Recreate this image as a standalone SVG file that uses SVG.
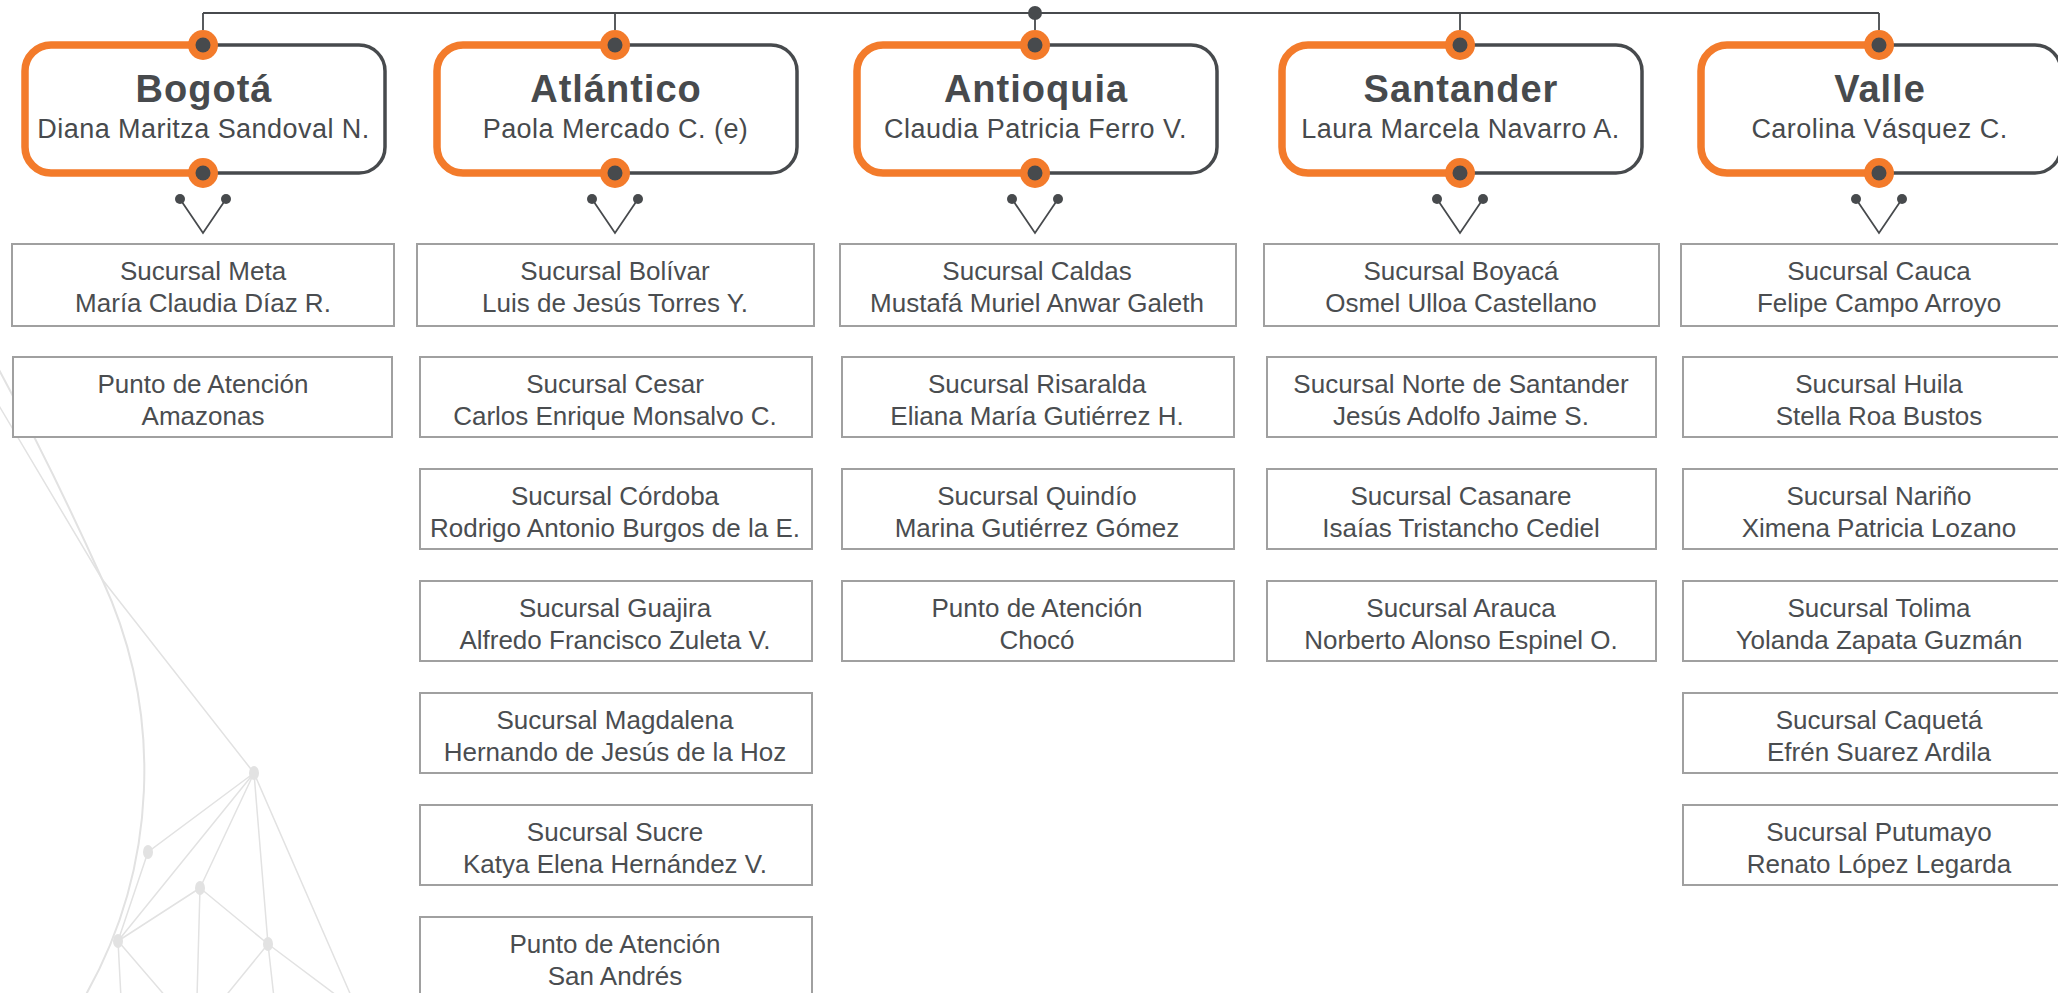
<svg xmlns="http://www.w3.org/2000/svg" width="2058" height="993" viewBox="0 0 2058 993">
<style>
.bgl{fill:none;stroke:#e2e2e2;stroke-width:1.5}
.bga{fill:none;stroke:#e2e2e2;stroke-width:2}
.bgn{fill:#e2e2e2}
.t{font-family:"Liberation Sans",Arial,sans-serif;font-weight:bold;font-size:38px;fill:#474a4d;text-anchor:middle;letter-spacing:1px}
.s{font-family:"Liberation Sans",Arial,sans-serif;font-size:27px;fill:#474a4d;text-anchor:middle;letter-spacing:0.45px}
.c{font-family:"Liberation Sans",Arial,sans-serif;font-size:26px;fill:#4a4d50;text-anchor:middle}
.box{fill:#fff;stroke:#a0a0a0;stroke-width:2}
.or{fill:none;stroke:#f37b2b;stroke-width:7.5}
.gr{fill:none;stroke:#474a4d;stroke-width:3.5}
.ln{fill:none;stroke:#474a4d;stroke-width:1.8}
.dk{fill:#474a4d}
.oc{fill:#f37b2b}
</style>
<defs>
<g id="hdr">
<rect x="-178" y="45" width="360" height="128" rx="26" fill="#fff"/>
<path class="or" d="M0,45 H-152 A26,26 0 0 0 -178,71 V147 A26,26 0 0 0 -152,173 H0"/>
<path class="gr" d="M0,45 H156 A26,26 0 0 1 182,71 V147 A26,26 0 0 1 156,173 H0"/>
<circle class="oc" cx="0" cy="45" r="15"/>
<circle class="dk" cx="0" cy="45" r="7.5"/>
<circle class="oc" cx="0" cy="173" r="15"/>
<circle class="dk" cx="0" cy="173" r="7.5"/>
</g>
<g id="chev">
<polyline class="ln" points="-23,199 0,233 23,199"/>
<circle class="dk" cx="-23" cy="199" r="5"/>
<circle class="dk" cx="23" cy="199" r="5"/>
</g>
</defs>
<rect width="2058" height="993" fill="#fff"/>
<g id="background">
<path class="bga" d="M-2,368 Q52,468 102,579 A457,457 0 0 1 84,998"/>
<path class="bgl" d="M-2,404 L102,579 L254,773"/>
<path class="bgl" d="M254,773 L148,852 L118,941 M254,773 L118,941 M254,773 L200,888 M254,773 L268,944 M254,773 L352,998 M200,888 L118,941 M200,888 L268,944 M200,888 L197,998 M118,941 L121,998 M118,941 L167,998 M268,944 L224,998 M268,944 L274,998 M268,944 L340,998"/>
<ellipse class="bgn" cx="254" cy="773" rx="5" ry="7"/>
<ellipse class="bgn" cx="148" cy="852" rx="5" ry="7"/>
<ellipse class="bgn" cx="200" cy="888" rx="5" ry="7"/>
<ellipse class="bgn" cx="118" cy="941" rx="5" ry="7"/>
<ellipse class="bgn" cx="268" cy="944" rx="5" ry="7"/>
</g>
<g id="connectors">
<path class="ln" d="M203,13 H1879 M203,13 V30 M615,13 V30 M1035,13 V30 M1460,13 V30 M1879,13 V30"/>
<circle class="dk" cx="1035" cy="13" r="7"/>
<use href="#chev" x="203"/>
<use href="#chev" x="615"/>
<use href="#chev" x="1035"/>
<use href="#chev" x="1460"/>
<use href="#chev" x="1879"/>
</g>
<g id="bogota">
<use href="#hdr" x="203"/>
<text class="t" x="204" y="102">Bogotá</text>
<text class="s" x="203.5" y="138">Diana Maritza Sandoval N.</text>
</g>
<g id="atlantico">
<use href="#hdr" x="615"/>
<text class="t" x="616" y="102">Atlántico</text>
<text class="s" x="615.5" y="138">Paola Mercado C. (e)</text>
</g>
<g id="antioquia">
<use href="#hdr" x="1035"/>
<text class="t" x="1036" y="102">Antioquia</text>
<text class="s" x="1035.5" y="138">Claudia Patricia Ferro V.</text>
</g>
<g id="santander">
<use href="#hdr" x="1460"/>
<text class="t" x="1461" y="102">Santander</text>
<text class="s" x="1460.5" y="138">Laura Marcela Navarro A.</text>
</g>
<g id="valle">
<use href="#hdr" x="1879"/>
<text class="t" x="1880" y="102">Valle</text>
<text class="s" x="1879.5" y="138">Carolina Vásquez C.</text>
</g>
<g id="bogota-meta"><rect class="box" x="12" y="244" width="382" height="82"/><text class="c" x="203" y="280">Sucursal Meta</text><text class="c" x="203" y="312">María Claudia Díaz R.</text></g>
<g id="bogota-amazonas"><rect class="box" x="13" y="357" width="379" height="80"/><text class="c" x="203" y="393">Punto de Atención</text><text class="c" x="203" y="425">Amazonas</text></g>
<g id="atl-bolivar"><rect class="box" x="417" y="244" width="397" height="82"/><text class="c" x="615" y="280">Sucursal Bolívar</text><text class="c" x="615" y="312">Luis de Jesús Torres Y.</text></g>
<g id="atl-cesar"><rect class="box" x="420" y="357" width="392" height="80"/><text class="c" x="615" y="393">Sucursal Cesar</text><text class="c" x="615" y="425">Carlos Enrique Monsalvo C.</text></g>
<g id="atl-cordoba"><rect class="box" x="420" y="469" width="392" height="80"/><text class="c" x="615" y="505">Sucursal Córdoba</text><text class="c" x="615" y="537">Rodrigo Antonio Burgos de la E.</text></g>
<g id="atl-guajira"><rect class="box" x="420" y="581" width="392" height="80"/><text class="c" x="615" y="617">Sucursal Guajira</text><text class="c" x="615" y="649">Alfredo Francisco Zuleta V.</text></g>
<g id="atl-magdalena"><rect class="box" x="420" y="693" width="392" height="80"/><text class="c" x="615" y="729">Sucursal Magdalena</text><text class="c" x="615" y="761">Hernando de Jesús de la Hoz</text></g>
<g id="atl-sucre"><rect class="box" x="420" y="805" width="392" height="80"/><text class="c" x="615" y="841">Sucursal Sucre</text><text class="c" x="615" y="873">Katya Elena Hernández V.</text></g>
<g id="atl-sanandres"><rect class="box" x="420" y="917" width="392" height="80"/><text class="c" x="615" y="953">Punto de Atención</text><text class="c" x="615" y="985">San Andrés</text></g>
<g id="ant-caldas"><rect class="box" x="840" y="244" width="396" height="82"/><text class="c" x="1037" y="280">Sucursal Caldas</text><text class="c" x="1037" y="312">Mustafá Muriel Anwar Galeth</text></g>
<g id="ant-risaralda"><rect class="box" x="842" y="357" width="392" height="80"/><text class="c" x="1037" y="393">Sucursal Risaralda</text><text class="c" x="1037" y="425">Eliana María Gutiérrez H.</text></g>
<g id="ant-quindio"><rect class="box" x="842" y="469" width="392" height="80"/><text class="c" x="1037" y="505">Sucursal Quindío</text><text class="c" x="1037" y="537">Marina Gutiérrez Gómez</text></g>
<g id="ant-choco"><rect class="box" x="842" y="581" width="392" height="80"/><text class="c" x="1037" y="617">Punto de Atención</text><text class="c" x="1037" y="649">Chocó</text></g>
<g id="san-boyaca"><rect class="box" x="1264" y="244" width="395" height="82"/><text class="c" x="1461" y="280">Sucursal Boyacá</text><text class="c" x="1461" y="312">Osmel Ulloa Castellano</text></g>
<g id="san-norte"><rect class="box" x="1267" y="357" width="389" height="80"/><text class="c" x="1461" y="393">Sucursal Norte de Santander</text><text class="c" x="1461" y="425">Jesús Adolfo Jaime S.</text></g>
<g id="san-casanare"><rect class="box" x="1267" y="469" width="389" height="80"/><text class="c" x="1461" y="505">Sucursal Casanare</text><text class="c" x="1461" y="537">Isaías Tristancho Cediel</text></g>
<g id="san-arauca"><rect class="box" x="1267" y="581" width="389" height="80"/><text class="c" x="1461" y="617">Sucursal Arauca</text><text class="c" x="1461" y="649">Norberto Alonso Espinel O.</text></g>
<g id="val-cauca"><rect class="box" x="1681" y="244" width="400" height="82"/><text class="c" x="1879" y="280">Sucursal Cauca</text><text class="c" x="1879" y="312">Felipe Campo Arroyo</text></g>
<g id="val-huila"><rect class="box" x="1683" y="357" width="400" height="80"/><text class="c" x="1879" y="393">Sucursal Huila</text><text class="c" x="1879" y="425">Stella Roa Bustos</text></g>
<g id="val-narino"><rect class="box" x="1683" y="469" width="400" height="80"/><text class="c" x="1879" y="505">Sucursal Nariño</text><text class="c" x="1879" y="537">Ximena Patricia Lozano</text></g>
<g id="val-tolima"><rect class="box" x="1683" y="581" width="400" height="80"/><text class="c" x="1879" y="617">Sucursal Tolima</text><text class="c" x="1879" y="649">Yolanda Zapata Guzmán</text></g>
<g id="val-caqueta"><rect class="box" x="1683" y="693" width="400" height="80"/><text class="c" x="1879" y="729">Sucursal Caquetá</text><text class="c" x="1879" y="761">Efrén Suarez Ardila</text></g>
<g id="val-putumayo"><rect class="box" x="1683" y="805" width="400" height="80"/><text class="c" x="1879" y="841">Sucursal Putumayo</text><text class="c" x="1879" y="873">Renato López Legarda</text></g>
</svg>
